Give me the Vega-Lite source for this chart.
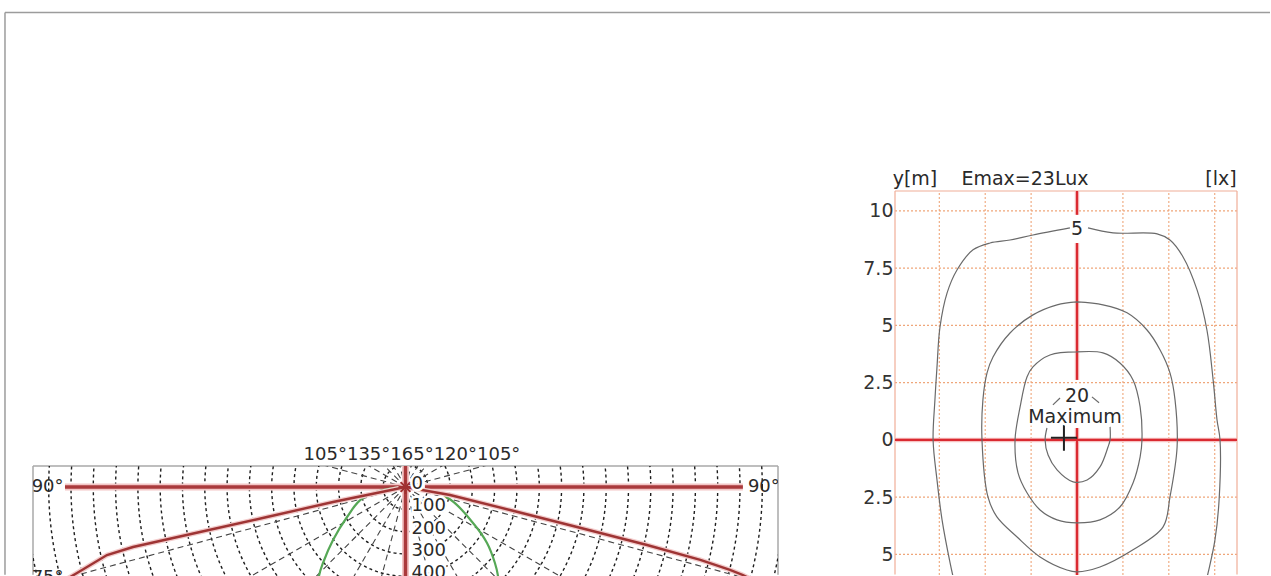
{
  "$schema": "https://vega.github.io/schema/vega-lite/v6.json",
  "background": "white",
  "autosize": {"type": "pad"},
  "padding": {"left": 4, "top": 11, "right": 0, "bottom": 0},
  "config": {"view": {"stroke": null}, "font": "DejaVu Sans"},
  "datasets": {
    "frame": [
      {"u": -1796, "v": 2127.8, "u2": 3876.7, "v2": 2127.8},
      {"u": -1796, "v": 2127.8, "u2": -1796, "v2": -394}
    ],
    "pbox": [
      {"u": -1670.4, "v": 94.2, "u2": 1670.4, "v2": 94.2},
      {"u": -1670.4, "v": 94.2, "u2": -1670.4, "v2": -394},
      {"u": 1670.4, "v": 94.2, "u2": 1670.4, "v2": -394}
    ],
    "circles": [
      {"u": 0, "v": 0, "r": 100}, {"u": 0, "v": 0, "r": 200}, {"u": 0, "v": 0, "r": 300},
      {"u": 0, "v": 0, "r": 400}, {"u": 0, "v": 0, "r": 500}, {"u": 0, "v": 0, "r": 600},
      {"u": 0, "v": 0, "r": 700}, {"u": 0, "v": 0, "r": 800}, {"u": 0, "v": 0, "r": 900},
      {"u": 0, "v": 0, "r": 1000}, {"u": 0, "v": 0, "r": 1100}, {"u": 0, "v": 0, "r": 1200},
      {"u": 0, "v": 0, "r": 1300}, {"u": 0, "v": 0, "r": 1400}, {"u": 0, "v": 0, "r": 1500},
      {"u": 0, "v": 0, "r": 1600}, {"u": 0, "v": 0, "r": 1700}, {"u": 0, "v": 0, "r": 1800}
    ],
    "radials": [
      {"u": 0, "v": 0, "u2": 517.6, "v2": -1931.9},
      {"u": 0, "v": 0, "u2": 1000, "v2": -1732.1},
      {"u": 0, "v": 0, "u2": 1414.2, "v2": -1414.2},
      {"u": 0, "v": 0, "u2": 1732.1, "v2": -1000},
      {"u": 0, "v": 0, "u2": 1931.9, "v2": -517.6},
      {"u": 0, "v": 0, "u2": 1931.9, "v2": 517.6},
      {"u": 0, "v": 0, "u2": 1732.1, "v2": 1000},
      {"u": 0, "v": 0, "u2": 1414.2, "v2": 1414.2},
      {"u": 0, "v": 0, "u2": 1000, "v2": 1732.1},
      {"u": 0, "v": 0, "u2": 517.6, "v2": 1931.9},
      {"u": 0, "v": 0, "u2": -517.6, "v2": -1931.9},
      {"u": 0, "v": 0, "u2": -1000, "v2": -1732.1},
      {"u": 0, "v": 0, "u2": -1414.2, "v2": -1414.2},
      {"u": 0, "v": 0, "u2": -1732.1, "v2": -1000},
      {"u": 0, "v": 0, "u2": -1931.9, "v2": -517.6},
      {"u": 0, "v": 0, "u2": -1931.9, "v2": 517.6},
      {"u": 0, "v": 0, "u2": -1732.1, "v2": 1000},
      {"u": 0, "v": 0, "u2": -1414.2, "v2": 1414.2},
      {"u": 0, "v": 0, "u2": -1000, "v2": 1732.1},
      {"u": 0, "v": 0, "u2": -517.6, "v2": 1931.9}
    ],
    "redaxes": [
      {"u": -1527, "v": 0, "u2": 0, "v2": 0},
      {"u": 87, "v": 0, "u2": 1513, "v2": 0},
      {"u": 0, "v": 94.2, "u2": 0, "v2": -399.07}
    ],
    "redcurve": [
      {"o": 1, "u": -1594, "v": -457},
      {"o": 2, "u": -1473, "v": -385.7},
      {"o": 3, "u": -1338.6, "v": -304.9},
      {"o": 4, "u": -1222, "v": -269},
      {"o": 5, "u": -921.5, "v": -201.8},
      {"o": 6, "u": -621, "v": -134.5},
      {"o": 7, "u": -325, "v": -67.3},
      {"o": 8, "u": -172.6, "v": -35.9},
      {"o": 9, "u": 0, "v": 0},
      {"o": 10, "u": 199.6, "v": -35.9},
      {"o": 11, "u": 468.6, "v": -103.1},
      {"o": 12, "u": 769, "v": -179.4},
      {"o": 13, "u": 1083, "v": -260},
      {"o": 14, "u": 1322, "v": -327},
      {"o": 15, "u": 1455, "v": -372},
      {"o": 16, "u": 1513, "v": -394.6},
      {"o": 17, "u": 1600, "v": -440}
    ],
    "greencurve": [
      {"o": 1, "u": -392, "v": -686},
      {"o": 2, "u": -397, "v": -507},
      {"o": 3, "u": -388, "v": -399},
      {"o": 4, "u": -370, "v": -340.8},
      {"o": 5, "u": -325, "v": -237.7},
      {"o": 6, "u": -262, "v": -134.5},
      {"o": 7, "u": -190.6, "v": -49.3},
      {"o": 8, "u": 0, "v": 0},
      {"o": 9, "u": 190.6, "v": -49.3},
      {"o": 10, "u": 302.7, "v": -161.4},
      {"o": 11, "u": 365.5, "v": -251},
      {"o": 12, "u": 401, "v": -340.8},
      {"o": 13, "u": 414.8, "v": -399},
      {"o": 14, "u": 423.8, "v": -507},
      {"o": 15, "u": 419, "v": -686}
    ],
    "rlabels": [
      {"label": "0", "u": 0, "v": 0},
      {"label": "100", "u": 0, "v": -100},
      {"label": "200", "u": 0, "v": -200},
      {"label": "300", "u": 0, "v": -300},
      {"label": "400", "u": 0, "v": -400}
    ],
    "alabels": [
      {"label": "90°", "u": -1605, "v": 0},
      {"label": "90°", "u": 1607, "v": 0},
      {"label": "75°", "u": -1605, "v": -408}
    ],
    "toplabel": [{"label": "105°135°165°120°105°", "u": 29, "v": 121}],
    "igrid": [
      {"x": -6, "y": -5.9, "x2": -6, "y2": 10.87},
      {"x": -4, "y": -5.9, "x2": -4, "y2": 10.87},
      {"x": -2, "y": -5.9, "x2": -2, "y2": 10.87},
      {"x": 2, "y": -5.9, "x2": 2, "y2": 10.87},
      {"x": 4, "y": -5.9, "x2": 4, "y2": 10.87},
      {"x": 6, "y": -5.9, "x2": 6, "y2": 10.87},
      {"x": -7.93, "y": -5, "x2": 6.97, "y2": -5},
      {"x": -7.93, "y": -2.5, "x2": 6.97, "y2": -2.5},
      {"x": -7.93, "y": 2.5, "x2": 6.97, "y2": 2.5},
      {"x": -7.93, "y": 5, "x2": 6.97, "y2": 5},
      {"x": -7.93, "y": 7.5, "x2": 6.97, "y2": 7.5},
      {"x": -7.93, "y": 10, "x2": 6.97, "y2": 10}
    ],
    "ibox": [
      {"x": -7.93, "y": 10.87, "x2": 6.97, "y2": 10.87},
      {"x": -7.93, "y": 10.87, "x2": -7.93, "y2": -5.88},
      {"x": 6.97, "y": 10.87, "x2": 6.97, "y2": -5.88}
    ],
    "iaxes": [
      {"x": -7.93, "y": 0, "x2": 6.97, "y2": 0},
      {"x": 0, "y": 10.87, "x2": 0, "y2": 9.83},
      {"x": 0, "y": 8.6, "x2": 0, "y2": 2.62},
      {"x": 0, "y": 0.52, "x2": 0, "y2": -5.9}
    ],
    "contours": [
      {"seg": "5a", "o": 1, "x": -0.31, "y": 9.26},
      {"seg": "5a", "o": 2, "x": -1.92, "y": 8.95},
      {"seg": "5a", "o": 3, "x": -2.92, "y": 8.73},
      {"seg": "5a", "o": 4, "x": -3.79, "y": 8.6},
      {"seg": "5a", "o": 5, "x": -4.53, "y": 8.3},
      {"seg": "5a", "o": 6, "x": -5.23, "y": 7.42},
      {"seg": "5a", "o": 7, "x": -5.66, "y": 6.42},
      {"seg": "5a", "o": 8, "x": -5.97, "y": 4.93},
      {"seg": "5a", "o": 9, "x": -6.1, "y": 3.19},
      {"seg": "5a", "o": 10, "x": -6.19, "y": 1.75},
      {"seg": "5a", "o": 11, "x": -6.27, "y": 0},
      {"seg": "5a", "o": 12, "x": -6.1, "y": -1.75},
      {"seg": "5a", "o": 13, "x": -5.88, "y": -3.49},
      {"seg": "5a", "o": 14, "x": -5.53, "y": -5.37},
      {"seg": "5a", "o": 15, "x": -5.27, "y": -6.55},
      {"seg": "5b", "o": 1, "x": 0.48, "y": 9.26},
      {"seg": "5b", "o": 2, "x": 1.57, "y": 9.04},
      {"seg": "5b", "o": 3, "x": 3.49, "y": 9.0},
      {"seg": "5b", "o": 4, "x": 4.05, "y": 8.73},
      {"seg": "5b", "o": 5, "x": 4.62, "y": 7.99},
      {"seg": "5b", "o": 6, "x": 5.23, "y": 6.55},
      {"seg": "5b", "o": 7, "x": 5.66, "y": 4.8},
      {"seg": "5b", "o": 8, "x": 5.93, "y": 2.62},
      {"seg": "5b", "o": 9, "x": 6.1, "y": 0.87},
      {"seg": "5b", "o": 10, "x": 6.23, "y": 0},
      {"seg": "5b", "o": 11, "x": 6.19, "y": -2.62},
      {"seg": "5b", "o": 12, "x": 6.01, "y": -4.37},
      {"seg": "5b", "o": 13, "x": 5.71, "y": -5.81},
      {"seg": "5b", "o": 14, "x": 5.53, "y": -6.55},
      {"seg": "10", "o": 1, "x": 0, "y": 6.03},
      {"seg": "10", "o": 2, "x": -0.87, "y": 5.9},
      {"seg": "10", "o": 3, "x": -1.92, "y": 5.46},
      {"seg": "10", "o": 4, "x": -2.92, "y": 4.67},
      {"seg": "10", "o": 5, "x": -3.66, "y": 3.62},
      {"seg": "10", "o": 6, "x": -3.92, "y": 2.93},
      {"seg": "10", "o": 7, "x": -4.1, "y": 1.75},
      {"seg": "10", "o": 8, "x": -4.14, "y": 0},
      {"seg": "10", "o": 9, "x": -3.88, "y": -2.49},
      {"seg": "10", "o": 10, "x": -3.49, "y": -3.36},
      {"seg": "10", "o": 11, "x": -2.61, "y": -4.24},
      {"seg": "10", "o": 12, "x": -1.61, "y": -5.11},
      {"seg": "10", "o": 13, "x": -0.44, "y": -5.68},
      {"seg": "10", "o": 14, "x": 0, "y": -5.76},
      {"seg": "10", "o": 15, "x": 1.0, "y": -5.55},
      {"seg": "10", "o": 16, "x": 2.44, "y": -4.8},
      {"seg": "10", "o": 17, "x": 3.75, "y": -3.8},
      {"seg": "10", "o": 18, "x": 4.05, "y": -2.49},
      {"seg": "10", "o": 19, "x": 4.36, "y": -0.31},
      {"seg": "10", "o": 20, "x": 4.27, "y": 1.75},
      {"seg": "10", "o": 21, "x": 4.05, "y": 2.93},
      {"seg": "10", "o": 22, "x": 3.62, "y": 3.93},
      {"seg": "10", "o": 23, "x": 3.05, "y": 4.8},
      {"seg": "10", "o": 24, "x": 2.18, "y": 5.55},
      {"seg": "10", "o": 25, "x": 1.13, "y": 5.9},
      {"seg": "10", "o": 26, "x": 0, "y": 6.03},
      {"seg": "15", "o": 1, "x": 0, "y": 3.84},
      {"seg": "15", "o": 2, "x": -1.18, "y": 3.71},
      {"seg": "15", "o": 3, "x": -1.92, "y": 3.19},
      {"seg": "15", "o": 4, "x": -2.18, "y": 2.75},
      {"seg": "15", "o": 5, "x": -2.48, "y": 1.44},
      {"seg": "15", "o": 6, "x": -2.7, "y": 0},
      {"seg": "15", "o": 7, "x": -2.57, "y": -1.44},
      {"seg": "15", "o": 8, "x": -2.18, "y": -2.31},
      {"seg": "15", "o": 9, "x": -1.61, "y": -3.06},
      {"seg": "15", "o": 10, "x": -0.87, "y": -3.49},
      {"seg": "15", "o": 11, "x": 0, "y": -3.62},
      {"seg": "15", "o": 12, "x": 1.0, "y": -3.49},
      {"seg": "15", "o": 13, "x": 1.87, "y": -2.93},
      {"seg": "15", "o": 14, "x": 2.44, "y": -1.88},
      {"seg": "15", "o": 15, "x": 2.75, "y": -0.74},
      {"seg": "15", "o": 16, "x": 2.83, "y": 0},
      {"seg": "15", "o": 17, "x": 2.75, "y": 1.44},
      {"seg": "15", "o": 18, "x": 2.44, "y": 2.62},
      {"seg": "15", "o": 19, "x": 1.87, "y": 3.36},
      {"seg": "15", "o": 20, "x": 1.13, "y": 3.8},
      {"seg": "15", "o": 21, "x": 0, "y": 3.84},
      {"seg": "20", "o": 1, "x": -1.31, "y": 0.52},
      {"seg": "20", "o": 2, "x": -1.39, "y": 0},
      {"seg": "20", "o": 3, "x": -1.26, "y": -0.66},
      {"seg": "20", "o": 4, "x": -0.87, "y": -1.31},
      {"seg": "20", "o": 5, "x": -0.17, "y": -1.83},
      {"seg": "20", "o": 6, "x": 0.44, "y": -1.75},
      {"seg": "20", "o": 7, "x": 1.0, "y": -1.18},
      {"seg": "20", "o": 8, "x": 1.35, "y": -0.31},
      {"seg": "20", "o": 9, "x": 1.44, "y": 0},
      {"seg": "20", "o": 10, "x": 1.44, "y": 0.57},
      {"seg": "20t1", "o": 1, "x": -1.05, "y": 1.53},
      {"seg": "20t1", "o": 2, "x": -0.74, "y": 1.83},
      {"seg": "20t2", "o": 1, "x": 0.65, "y": 1.88},
      {"seg": "20t2", "o": 2, "x": 0.96, "y": 1.62}
    ],
    "ilabels": [
      {"text": "5", "x": 0, "y": 8.95},
      {"text": "20", "x": 0, "y": 1.66},
      {"text": "Maximum", "x": -0.09, "y": 0.74}
    ],
    "ititles": [
      {"text": "y[m]", "x": -7.06, "y": 11.13},
      {"text": "Emax=23Lux", "x": -2.27, "y": 11.13},
      {"text": "[lx]", "x": 6.27, "y": 11.13}
    ],
    "imax": [{"x": -0.57, "y": 0.09}]
  },
  "bounds": "flush",
  "spacing": 862,
  "hconcat": [
    {
      "bounds": "flush",
      "spacing": 0,
      "vconcat": [
        {
          "width": 745,
          "height": 275,
          "data": {"values": [{"k": 0}]},
          "mark": {"type": "point", "opacity": 0}
        },
        {
          "width": 745,
          "height": 110,
          "encoding": {
            "x": {"field": "u", "type": "quantitative", "scale": {"domain": [-1670.4, 1670.4], "nice": false, "zero": false}, "axis": null},
            "y": {"field": "v", "type": "quantitative", "scale": {"domain": [-399.07, 94.2], "nice": false, "zero": false}, "axis": null}
          },
          "layer": [
            {
              "data": {"name": "frame"},
              "mark": {"type": "rule", "color": "#9c9c9c", "strokeWidth": 1.5},
              "encoding": {"x2": {"field": "u2"}, "y2": {"field": "v2"}}
            },
            {
              "data": {"name": "pbox"},
              "mark": {"type": "rule", "color": "#a8a8a8", "strokeWidth": 1.5},
              "encoding": {"x2": {"field": "u2"}, "y2": {"field": "v2"}}
            },
            {
              "data": {"name": "circles"},
              "mark": {"type": "point", "shape": "circle", "clip": true, "filled": false, "color": "#1e1e1e", "strokeWidth": 1.4, "strokeDash": [3, 3], "opacity": 1},
              "encoding": {
                "size": {"field": "r", "type": "quantitative", "legend": null, "scale": {"type": "pow", "exponent": 2, "domain": [0, 1000], "range": [0, 198916], "zero": true}}
              }
            },
            {
              "data": {"name": "radials"},
              "mark": {"type": "rule", "clip": true, "color": "#444444", "strokeWidth": 1.1, "strokeDash": [6, 4]},
              "encoding": {"x2": {"field": "u2"}, "y2": {"field": "v2"}}
            },
            {
              "data": {"name": "redaxes"},
              "mark": {"type": "rule", "clip": true, "color": "#f3c6c6", "strokeWidth": 7},
              "encoding": {"x2": {"field": "u2"}, "y2": {"field": "v2"}}
            },
            {
              "data": {"name": "redaxes"},
              "mark": {"type": "rule", "clip": true, "color": "#aa3a3c", "strokeWidth": 3.5},
              "encoding": {"x2": {"field": "u2"}, "y2": {"field": "v2"}}
            },
            {
              "data": {"name": "greencurve"},
              "mark": {"type": "line", "clip": true, "color": "#56a856", "strokeWidth": 2.2, "interpolate": "catmull-rom"},
              "encoding": {"order": {"field": "o", "type": "quantitative"}}
            },
            {
              "data": {"name": "redcurve"},
              "mark": {"type": "line", "clip": true, "color": "#f3cccc", "strokeWidth": 5},
              "encoding": {"order": {"field": "o", "type": "quantitative"}}
            },
            {
              "data": {"name": "redcurve"},
              "mark": {"type": "line", "clip": true, "color": "#9e3434", "strokeWidth": 2.4},
              "encoding": {"order": {"field": "o", "type": "quantitative"}}
            },
            {
              "data": {"values": [{"u": 0, "v": 0}]},
              "mark": {"type": "point", "shape": "M-1,0H1M0,-1V1M-0.7,-0.7L0.7,0.7M-0.7,0.7L0.7,-0.7", "size": 196, "filled": false, "color": "#a03030", "strokeWidth": 2, "opacity": 1}
            },
            {
              "data": {"name": "rlabels"},
              "encoding": {"text": {"field": "label"}},
              "layer": [
                {"mark": {"type": "text", "clip": true, "align": "left", "baseline": "alphabetic", "dx": 6, "dy": 2, "fontSize": 18, "font": "DejaVu Sans", "color": "white", "stroke": "white", "strokeWidth": 5, "strokeJoin": "round"}},
                {"mark": {"type": "text", "clip": true, "align": "left", "baseline": "alphabetic", "dx": 6, "dy": 2, "fontSize": 18, "font": "DejaVu Sans", "color": "#2a2a2a"}}
              ]
            },
            {
              "data": {"name": "alabels"},
              "mark": {"type": "text", "clip": true, "align": "center", "baseline": "middle", "fontSize": 18, "font": "DejaVu Sans", "color": "#2a2a2a"},
              "encoding": {"text": {"field": "label"}}
            },
            {
              "data": {"name": "toplabel"},
              "mark": {"type": "text", "align": "center", "baseline": "alphabetic", "fontSize": 18, "font": "DejaVu Sans", "color": "#2a2a2a"},
              "encoding": {"text": {"field": "label"}}
            }
          ]
        }
      ]
    },
    {
      "width": 342,
      "height": 384,
      "encoding": {
        "x": {
          "field": "x", "type": "quantitative",
          "scale": {"domain": [-7.93, 6.97], "nice": false, "zero": false},
          "axis": null
        },
        "y": {
          "field": "y", "type": "quantitative",
          "scale": {"domain": [-5.9, 10.87], "nice": false, "zero": false},
          "axis": {"values": [-5, -2.5, 0, 2.5, 5, 7.5, 10], "labelExpr": "abs(datum.value)", "ticks": false, "domain": false, "grid": false, "title": null, "labelPadding": 2, "labelFontSize": 19, "labelFont": "DejaVu Sans", "labelColor": "#333333"}
        }
      },
      "layer": [
        {
          "data": {"name": "igrid"},
          "mark": {"type": "rule", "clip": true, "color": "#efa67a", "strokeWidth": 1.1, "strokeDash": [2, 2]},
          "encoding": {"x2": {"field": "x2"}, "y2": {"field": "y2"}}
        },
        {
          "data": {"name": "ibox"},
          "mark": {"type": "rule", "color": "#f0ae98", "strokeWidth": 1.2},
          "encoding": {"x2": {"field": "x2"}, "y2": {"field": "y2"}}
        },
        {
          "data": {"name": "iaxes"},
          "mark": {"type": "rule", "clip": true, "color": "#f7c2c2", "strokeWidth": 4.5},
          "encoding": {"x2": {"field": "x2"}, "y2": {"field": "y2"}}
        },
        {
          "data": {"name": "iaxes"},
          "mark": {"type": "rule", "clip": true, "color": "#da2a31", "strokeWidth": 2.2},
          "encoding": {"x2": {"field": "x2"}, "y2": {"field": "y2"}}
        },
        {
          "data": {"name": "contours"},
          "mark": {"type": "line", "clip": true, "color": "#6a6a6a", "strokeWidth": 1.2, "interpolate": "catmull-rom"},
          "encoding": {"detail": {"field": "seg"}, "order": {"field": "o", "type": "quantitative"}}
        },
        {
          "data": {"name": "imax"},
          "mark": {"type": "point", "shape": "M-1,0H1M0,-1V1", "size": 676, "filled": false, "color": "#222222", "strokeWidth": 2, "opacity": 1}
        },
        {
          "data": {"name": "ilabels"},
          "encoding": {"text": {"field": "text"}},
          "layer": [
            {"mark": {"type": "text", "align": "center", "baseline": "alphabetic", "fontSize": 19, "font": "DejaVu Sans", "color": "white", "stroke": "white", "strokeWidth": 5, "strokeJoin": "round"}},
            {"mark": {"type": "text", "align": "center", "baseline": "alphabetic", "fontSize": 19, "font": "DejaVu Sans", "color": "#2a2a2a"}}
          ]
        },
        {
          "data": {"name": "ititles"},
          "mark": {"type": "text", "align": "center", "baseline": "alphabetic", "fontSize": 19, "font": "DejaVu Sans", "color": "#2a2a2a"},
          "encoding": {"text": {"field": "text"}}
        }
      ]
    }
  ]
}
